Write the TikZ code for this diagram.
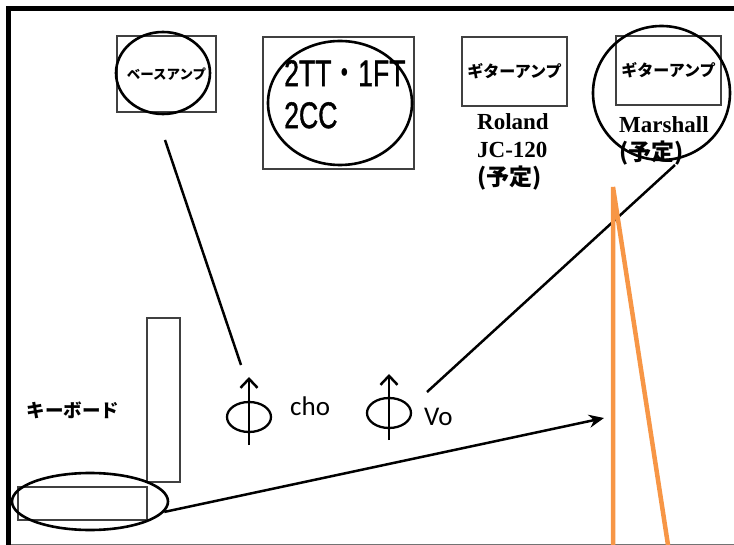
\documentclass[tikz,border=0pt]{standalone}
\usepackage{fontspec}
\usepackage{graphicx}
\setmainfont{Liberation Serif}
\newfontfamily\jpfont{Noto Sans CJK JP}
\newfontfamily\drumfont[FakeBold=1.4]{Liberation Sans}
\newfontfamily\micfont{Carlito}
\usepackage{tikz}
\usetikzlibrary{positioning,arrows.meta,shapes.geometric}
\definecolor{standorange}{RGB}{247,150,70}
\newcommand{\narrowtext}[1]{\scalebox{0.72}[1]{#1}}

\begin{document}
\begin{tikzpicture}[x=1pt,y=-1pt,
  ampbox/.style={draw=black!75,line width=1.2pt,inner sep=0pt},
  ring/.style={ellipse,draw,line width=2.6pt,inner sep=0pt},
  wire/.style={line width=2.5pt},
  amptext/.style={font=\jpfont\bfseries\fontsize{16}{18}\selectfont},
  nametext/.style={font=\bfseries\fontsize{23}{28}\selectfont,align=left,inner sep=0pt},
  mic/.style={ellipse,draw,line width=2.3pt,minimum width=44,minimum height=30,inner sep=0pt},
  mictext/.style={font=\micfont\fontsize{27}{30}\selectfont,inner sep=0pt}]
\useasboundingbox (0,0) rectangle (734,545);
% stage frame
\coordinate (frameTR) at (734,8.5);
\coordinate (frameTL) at (8.5,8.5);
\coordinate (frameBL) at (8.5,545);
\coordinate (floorL) at (8.5,544);
\coordinate (floorR) at (734,544);
\draw[black!55,line width=1pt] (floorL) -- (floorR);
\draw[line width=4.5pt] (frameTR) -- (frameTL) -- (frameBL);

% amps and drums
\node[ampbox,minimum width=99,minimum height=76,font=\jpfont\bfseries\fontsize{13.5}{15}\selectfont] (bassamp) at (166.5,74) {ベースアンプ};
\node[ring,minimum width=94,minimum height=82] (bassring) at (163,73) {};
\node[ampbox,minimum width=151,minimum height=132] (drums) at (338.5,103) {};
\node[ring,minimum width=144,minimum height=124] (drumring) at (340,103) {};
\node[font=\drumfont\fontsize{37}{42}\selectfont,align=left,anchor=north west,inner sep=0pt] (drumset) at (284,60)
  {\narrowtext{2TT{\jpfont ・}1FT}\\\narrowtext{2CC}};
\node[ampbox,minimum width=105,minimum height=69,amptext] (rolandamp) at (514.5,71.5) {ギターアンプ};
\node[nametext,anchor=north west] (rolandname) at (477,113) {Roland\\JC-120\\{\jpfont (予定)}};
\node[ampbox,minimum width=105,minimum height=69,amptext] (marshallamp) at (668.5,70.5) {ギターアンプ};
\node[ring,minimum width=137,minimum height=134] (marshallring) at (661.5,93) {};
\node[nametext,anchor=north west] (marshallname) at (619,116) {Marshall\\{\jpfont (予定)}};

% keyboards
\node[ampbox,minimum width=33,minimum height=164] (kbdstand) at (163.5,400) {};
\node[ampbox,minimum width=129,minimum height=33] (kbd) at (82.5,503.5) {};
\node[ring,minimum width=156,minimum height=57] (kbdring) at (90,501.5) {};
\node[font=\jpfont\bfseries\fontsize{18.5}{20}\selectfont] (kbdlabel) at (73,410) {キーボード};

% mics
\node[mic] (chomic) at (249,417) {};
\coordinate (chobase) at (249,445);
\coordinate (chotip) at (249,377);
\draw[wire,-{Straight Barb[length=9pt,width=17pt]}] (chobase) -- (chotip);
\node[mictext,anchor=base west] (cholabel) at (290,415) {cho};
\node[mic] (vomic) at (389,413) {};
\coordinate (vobase) at (389,440);
\coordinate (votip) at (389,374);
\draw[wire,-{Straight Barb[length=9pt,width=17pt]}] (vobase) -- (votip);
\node[mictext,anchor=base west] (volabel) at (424,425) {Vo};

% monitor lines
\coordinate (bassfrom) at (165,140);
\coordinate (bassto) at (241,365);
\draw[wire] (bassfrom) -- (bassto);
\coordinate (marshallfrom) at (675,165);
\coordinate (marshallto) at (427,392);
\draw[wire] (marshallfrom) -- (marshallto);
\coordinate (kbdto) at (604,418);
\draw[wire,-{Stealth[length=15pt,width=13pt]}] (kbdring.-8) -- (kbdto);

% mic stand
\coordinate (standtop) at (613,187);
\coordinate (standleft) at (613,545);
\coordinate (standright) at (668,545);
\draw[standorange,line width=4.5pt,line cap=round] (standleft) -- (standtop) -- (standright);
\end{tikzpicture}
\end{document}
